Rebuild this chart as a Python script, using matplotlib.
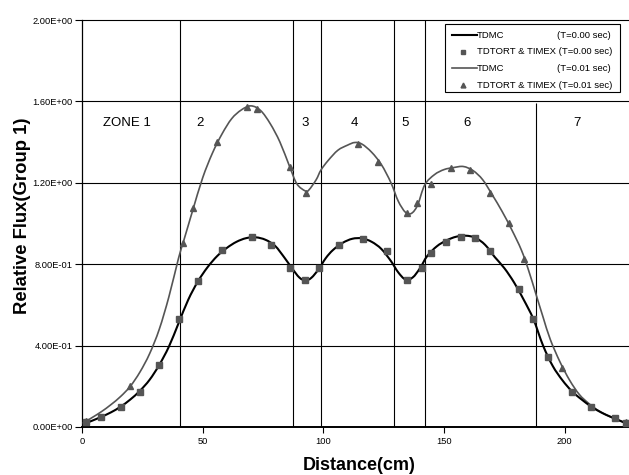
import matplotlib
matplotlib.use('Agg')
import matplotlib.pyplot as plt
import numpy as np
from matplotlib.path import Path
from matplotlib.patches import PathPatch, Rectangle

plt.rcParams['font.family'] = ['Liberation Sans', 'DejaVu Sans']

# TDMC (T=0.00 sec) - smooth black curve
x_mc0 = [0, 4, 8, 12, 16, 20, 24, 28, 32, 36, 40, 44, 48, 52, 56, 60, 64, 68, 72, 76,
         80, 84, 87, 90, 92.5, 95, 98, 101, 104, 108, 112, 116, 120, 124, 128, 131, 134,
         137, 140, 143, 147, 151, 155, 159, 163, 167, 171, 175, 179, 183, 187, 191, 195,
         199, 203, 207, 211, 215, 219, 223, 226.5]
y_mc0 = [0.012, 0.03, 0.05, 0.072, 0.10, 0.135, 0.178, 0.232, 0.305, 0.395, 0.51, 0.625,
         0.715, 0.785, 0.84, 0.88, 0.91, 0.928, 0.932, 0.92, 0.89, 0.83, 0.78, 0.735, 0.72,
         0.733, 0.775, 0.83, 0.87, 0.905, 0.925, 0.927, 0.91, 0.875, 0.815, 0.76, 0.725,
         0.735, 0.78, 0.84, 0.888, 0.917, 0.935, 0.94, 0.93, 0.895, 0.835, 0.78, 0.71,
         0.625, 0.53, 0.40, 0.30, 0.23, 0.175, 0.135, 0.10, 0.072, 0.05, 0.03, 0.012]

# TDMC (T=0.01 sec) - smooth grey curve
x_mc1 = [0, 4, 8, 12, 16, 20, 24, 28, 32, 36, 40, 42, 44, 46, 50, 54, 58, 62, 66, 70,
         74, 78, 82, 86, 89, 92.5, 94, 97, 99, 102, 106, 110, 113, 116, 120, 124, 128, 131,
         134, 136.5, 139, 142, 146, 150, 154, 158, 162, 166, 170, 174, 178, 182, 185, 188,
         191, 194, 198, 202, 206, 210, 214, 218, 222, 226.5]
y_mc1 = [0.015, 0.045, 0.075, 0.11, 0.15, 0.20, 0.27, 0.36, 0.48, 0.64, 0.83, 0.91, 0.99,
         1.07, 1.225, 1.345, 1.44, 1.515, 1.558, 1.578, 1.555, 1.49, 1.40, 1.28, 1.195,
         1.16, 1.165, 1.215, 1.263, 1.31, 1.36, 1.385, 1.398, 1.39, 1.35, 1.29, 1.20, 1.11,
         1.055, 1.05, 1.09, 1.19, 1.24, 1.265, 1.275, 1.28, 1.26, 1.215, 1.14, 1.06, 0.97,
         0.87, 0.77, 0.655, 0.54, 0.43, 0.32, 0.23, 0.16, 0.115, 0.08, 0.055, 0.035, 0.015]

# TDTORT & TIMEX markers
x_sq0 = [1.5, 8, 16, 24, 32, 40, 48, 58, 70.3, 78.2, 86.1, 92.5, 98.3, 106.4, 116.5,
         126.5, 134.5, 140.7, 144.5, 150.7, 156.9, 162.6, 169, 180.9, 187, 193, 203, 211,
         221, 225.5]
y_sq0 = [0.025, 0.05, 0.10, 0.174, 0.305, 0.532, 0.717, 0.868, 0.932, 0.896, 0.783, 0.722,
         0.783, 0.896, 0.924, 0.863, 0.722, 0.783, 0.855, 0.909, 0.932, 0.930, 0.863,
         0.678, 0.531, 0.345, 0.174, 0.10, 0.043, 0.02]
x_tr1 = [1.5, 20, 41.9, 45.9, 55.8, 68.4, 72.3, 86.3, 92.6, 114.5, 122.6, 134.6, 138.8,
         144.5, 152.8, 160.8, 169.1, 176.9, 182.9, 199, 225.5]
y_tr1 = [0.03, 0.20, 0.903, 1.075, 1.402, 1.574, 1.563, 1.279, 1.151, 1.393, 1.304, 1.053,
         1.102, 1.193, 1.273, 1.265, 1.151, 1.001, 0.826, 0.29, 0.025]

zone_bounds = [40.6, 87.3, 99.0, 129.3, 142.2, 187.9]
zone_names = ['ZONE 1', '2', '3', '4', '5', '6', '7']
zone_label_x = [18.8, 49, 92.5, 113, 134, 159.7, 205]

GREY = '#555555'


def smooth_path(x, y):
    # excel style smoothed line: cubic bezier between the points
    pts = np.column_stack([x, y]).astype(float)
    n = len(pts)
    verts = [pts[0]]
    codes = [Path.MOVETO]
    for i in range(n - 1):
        p0 = pts[i - 1] if i > 0 else pts[i]
        p1 = pts[i]
        p2 = pts[i + 1]
        p3 = pts[i + 2] if i + 2 < n else pts[i + 1]
        verts += [p1 + (p2 - p0) / 6, p2 - (p3 - p1) / 6, p2]
        codes += [Path.CURVE4] * 3
    return Path(verts, codes)


fig = plt.figure(figsize=(6.29, 4.75), dpi=100)
ax = fig.add_axes([82 / 629, 48 / 475, 547 / 629, 407 / 475])
ax.set_xlim(0, 226.6)
ax.set_ylim(0, 2.0)

yt = [0, 0.4, 0.8, 1.2, 1.6, 2.0]
for v in yt[1:]:
    ax.axhline(v, color='black', lw=0.8, clip_on=False, zorder=1)
for b in zone_bounds[:-1]:
    ax.axvline(b, color='black', lw=0.8, zorder=1)
ax.vlines(zone_bounds[-1], 0, 1.59, color='black', lw=0.8, zorder=1)

ax.add_patch(PathPatch(smooth_path(x_mc1, y_mc1), fill=False, edgecolor=GREY, lw=1.2, zorder=3))
ax.add_patch(PathPatch(smooth_path(x_mc0, y_mc0), fill=False, edgecolor='black', lw=1.5, zorder=3))
ax.plot(x_sq0, y_sq0, ls='none', marker='s', ms=4.3, color=GREY, zorder=4, clip_on=False)
ax.plot(x_tr1, y_tr1, ls='none', marker='^', ms=4.5, color=GREY, zorder=4, clip_on=False)

for name, zx in zip(zone_names, zone_label_x):
    ax.text(zx, 1.495, name, ha='center', va='center', fontsize=9.5)

ax.set_xticks([0, 50, 100, 150, 200])
ax.set_yticks(yt)
ax.set_yticklabels(['{:.2E}'.format(v) for v in yt])
ax.tick_params(axis='x', direction='out', length=4, width=0.8, labelsize=6.7, pad=3)
ax.tick_params(axis='y', direction='out', length=5, width=0.8, labelsize=6.7, pad=1.5)
ax.spines['top'].set_visible(False)
ax.spines['right'].set_visible(False)
ax.spines['left'].set_linewidth(0.9)
ax.spines['bottom'].set_linewidth(1.4)

fig.text(0.571, 0.021, 'Distance(cm)', ha='center', va='center', fontsize=13, fontweight='bold')
fig.text(0.035, 0.545, 'Relative Flux(Group 1)', ha='center', va='center', rotation=90,
         fontsize=13.3, fontweight='bold')

# legend box drawn by hand so the time labels line up on the right
ax.add_patch(Rectangle((0.6636, 0.823), 0.3199, 0.167, transform=ax.transAxes,
                       facecolor='white', edgecolor='black', lw=0.8, zorder=5))
rows = [0.963, 0.922, 0.881, 0.840]
leg = [('TDMC', '(T=0.00 sec)', 'line', 'black'),
       ('TDTORT & TIMEX (T=0.00 sec)', '', 's', GREY),
       ('TDMC', '(T=0.01 sec)', 'line', GREY),
       ('TDTORT & TIMEX (T=0.01 sec)', '', '^', GREY)]
for ry, (lab, tlab, kind, c) in zip(rows, leg):
    if kind == 'line':
        ax.plot([0.6764, 0.7221], [ry, ry], transform=ax.transAxes, color=c,
                lw=1.5 if c == 'black' else 1.2, zorder=6)
    else:
        ax.plot([0.697], [ry], transform=ax.transAxes, ls='none', marker=kind,
                ms=3.5, color=c, zorder=6)
    ax.text(0.7225, ry, lab, transform=ax.transAxes, fontsize=6.8, va='center', zorder=6)
    if tlab:
        ax.text(0.9665, ry, tlab, transform=ax.transAxes, fontsize=6.8, va='center',
                ha='right', zorder=6)

fig.savefig('out.png', dpi=100)
